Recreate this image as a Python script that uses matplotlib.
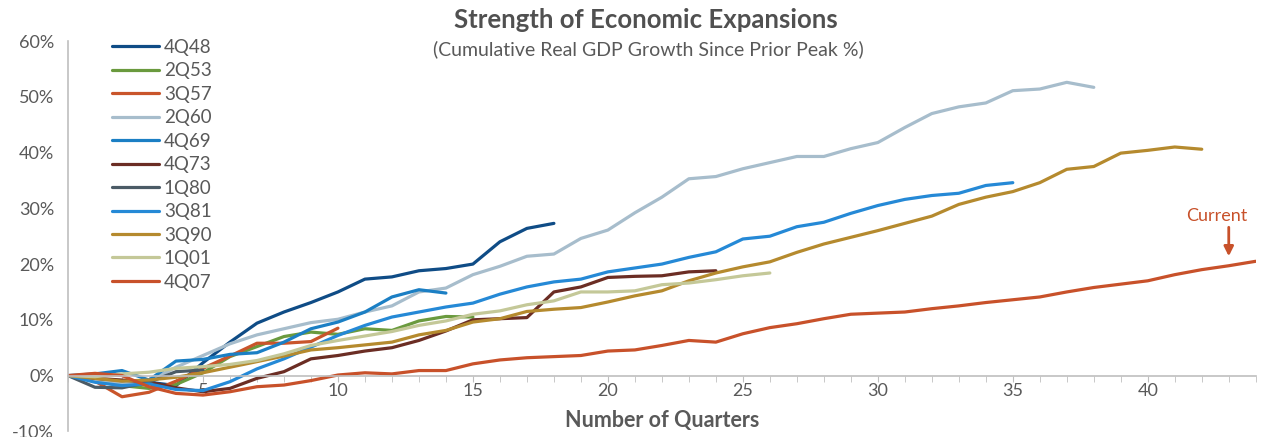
import matplotlib
matplotlib.use("Agg")
import matplotlib.pyplot as plt
from matplotlib.ticker import MultipleLocator

plt.rcParams['font.family'] = ['Lato', 'DejaVu Sans']

# Cumulative real GDP growth since prior peak (%), by quarters since peak
gdp_4q48 = [0, -1.0, -1.5, -1.2, -1.8, 2.3, 6.0, 9.4, 11.4, 13.1, 15.0, 17.3, 17.7, 18.8, 19.2,
            20.0, 24.0, 26.4, 27.3]
gdp_2q53 = [0, -1.0, -1.8, -2.3, -1.6, 0.5, 3.4, 5.2, 7.0, 7.8, 7.4, 8.4, 8.1, 9.8, 10.6, 10.5]
gdp_3q57 = [0, -1.0, -3.8, -3.0, -1.0, 1.3, 3.5, 5.8, 5.8, 6.1, 8.5]
gdp_2q60 = [0, -1.0, -1.5, -1.0, 1.5, 3.6, 5.7, 7.3, 8.4, 9.5, 10.1, 11.4, 12.5, 15.0, 15.7,
            18.1, 19.6, 21.4, 21.8, 24.6, 26.1, 29.2, 32.0, 35.3, 35.7, 37.1, 38.2, 39.3, 39.3,
            40.7, 41.8, 44.5, 47.0, 48.2, 48.9, 51.1, 51.4, 52.6, 51.7]
gdp_4q69 = [0, 0.3, 0.9, -0.8, 2.6, 2.9, 3.8, 4.1, 6.0, 8.4, 9.6, 11.4, 14.1, 15.4, 14.8]
gdp_4q73 = [0, -0.5, -0.8, -1.2, -2.2, -2.9, -2.3, -0.5, 0.7, 3.0, 3.6, 4.4, 5.0, 6.3, 8.0,
            10.0, 10.2, 10.4, 15.0, 15.9, 17.6, 17.8, 17.9, 18.6, 18.8]
gdp_1q80 = [0, -2.1, -2.2, -1.2, 0.7, 1.0]
gdp_3q81 = [0, -1.2, -1.8, -1.5, -2.5, -2.7, -1.1, 1.2, 3.0, 5.1, 7.2, 9.0, 10.5, 11.4, 12.3,
            13.0, 14.6, 15.9, 16.8, 17.3, 18.6, 19.3, 20.0, 21.2, 22.2, 24.5, 25.0, 26.7, 27.5,
            29.1, 30.5, 31.6, 32.3, 32.7, 34.1, 34.6]
gdp_3q90 = [0, -0.5, -1.0, -0.8, -0.3, 0.5, 1.5, 2.5, 3.5, 4.6, 5.0, 5.5, 6.0, 7.3, 8.1,
            9.6, 10.2, 11.5, 11.9, 12.2, 13.2, 14.3, 15.2, 17.0, 18.4, 19.5, 20.4, 22.1, 23.6,
            24.8, 26.0, 27.3, 28.6, 30.7, 32.0, 33.0, 34.6, 37.0, 37.5, 39.9, 40.4, 41.0, 40.6]
gdp_1q01 = [0, -0.2, 0.3, 0.6, 1.3, 1.6, 2.0, 2.7, 3.9, 5.4, 6.3, 7.1, 7.9, 9.0, 9.8,
            11.0, 11.6, 12.7, 13.4, 15.0, 15.0, 15.2, 16.3, 16.6, 17.2, 17.9, 18.4]
gdp_4q07 = [0, 0.4, 0.0, -2.0, -3.2, -3.5, -2.9, -2.0, -1.7, -0.9, 0.1, 0.5, 0.3, 0.9, 0.9,
            2.1, 2.8, 3.2, 3.4, 3.6, 4.4, 4.6, 5.4, 6.3, 6.0, 7.5, 8.6, 9.3, 10.2, 11.0,
            11.2, 11.4, 12.0, 12.5, 13.1, 13.6, 14.1, 15.0, 15.8, 16.4, 17.0, 18.1, 19.0, 19.7, 20.5]

labels = ['4Q48', '2Q53', '3Q57', '2Q60', '4Q69', '4Q73', '1Q80', '3Q81', '3Q90', '1Q01', '4Q07']
series = [gdp_4q48, gdp_2q53, gdp_3q57, gdp_2q60, gdp_4q69, gdp_4q73, gdp_1q80, gdp_3q81,
          gdp_3q90, gdp_1q01, gdp_4q07]
colors = ['#0f4c86', '#6a9a3e', '#c9552b', '#a7bdcc', '#1b7fc4', '#6b2d24', '#4b5b66',
          '#2589d6', '#b58a2e', '#c4c898', '#c8512a']

y_ticks = [-10, 0, 10, 20, 30, 40, 50, 60]
y_tick_labels = ['-10%', '0%', '10%', '20%', '30%', '40%', '50%', '60%']

text_gray = '#595959'

fig = plt.figure(figsize=(12.71, 4.37), dpi=100)
ax = fig.add_axes([0.0535, 0.013, 0.9345, 0.893])

for vals, lab, col in zip(series, labels, colors):
    ax.plot(range(len(vals)), vals, color=col, lw=2.3, label=lab, solid_capstyle='round')

ax.set_xlim(0, 44)
ax.set_ylim(-10, 60)
ax.set_yticks(y_ticks)
ax.set_yticklabels(y_tick_labels)
ax.xaxis.set_minor_locator(MultipleLocator(1))
ax.set_xticks([5, 10, 15, 20, 25, 30, 35, 40])
ax.set_axisbelow(True)

for s in ['top', 'right']:
    ax.spines[s].set_visible(False)
ax.spines['bottom'].set_position(('data', 0))
ax.spines['bottom'].set_color('#bfbfbf')
ax.spines['left'].set_color('#bfbfbf')
ax.spines['bottom'].set_linewidth(1.2)
ax.spines['left'].set_linewidth(1.2)

ax.tick_params(axis='y', length=0, labelsize=13, labelcolor=text_gray, pad=10)
ax.tick_params(axis='x', which='both', direction='out', length=4, color='#bfbfbf',
               labelsize=13, labelcolor=text_gray, pad=1)

ax.set_xlabel('Number of Quarters', fontsize=15.5, fontweight='bold', color=text_gray, labelpad=8)

fig.text(0.508, 0.955, 'Strength of Economic Expansions', ha='center', va='center',
         fontsize=18.5, fontweight='bold', color='#505050')
fig.text(0.51, 0.888, '(Cumulative Real GDP Growth Since Prior Peak %)', ha='center', va='center',
         fontsize=14, color=text_gray)

leg = ax.legend(loc='upper left', bbox_to_anchor=(0.031, 1.025), frameon=False, fontsize=13.5,
                handlelength=2.5, handletextpad=0.25, labelspacing=0.345, borderaxespad=0)
for t in leg.get_texts():
    t.set_color(text_gray)

ax.text(42.55, 27.2, 'Current', ha='center', va='bottom', color='#c8512a', fontsize=13)
ax.annotate('', xy=(43, 21.4), xytext=(43, 26.6),
            arrowprops=dict(arrowstyle='-|>', color='#c8512a', lw=2, mutation_scale=14,
                            shrinkA=0, shrinkB=0))

fig.savefig('out.png', dpi=100)
